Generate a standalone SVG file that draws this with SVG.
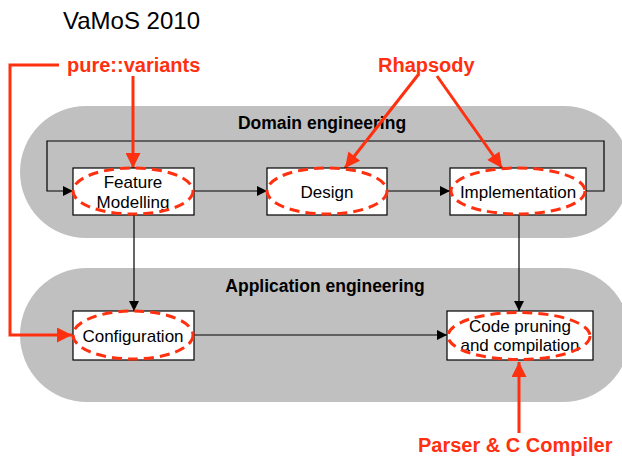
<svg xmlns="http://www.w3.org/2000/svg" width="622" height="461" viewBox="0 0 622 461">
<style>
.band{fill:#c0c0c0}
.box{fill:#fff;stroke:#000;stroke-width:1.2}
.lbl{font-family:"Liberation Sans",Arial,sans-serif;font-size:17px;fill:#000;text-anchor:middle}
.hdr{font-family:"Liberation Sans",Arial,sans-serif;font-size:17.5px;font-weight:bold;fill:#000;text-anchor:middle}
.tool{font-family:"Liberation Sans",Arial,sans-serif;font-size:20px;font-weight:bold;fill:#ff3010}
.ell{fill:none;stroke:#ff3010;stroke-width:3;stroke-dasharray:10 6}
.conn{fill:none;stroke:#000;stroke-width:1.2}
.red{fill:none;stroke:#ff3010;stroke-width:3}
</style>
<defs>
<marker id="ab" viewBox="0 0 10 10" refX="10" refY="5" markerWidth="10" markerHeight="10" markerUnits="userSpaceOnUse" orient="auto"><path d="M0,0 L10,5 L0,10 z" fill="#000"/></marker>
<marker id="ar" viewBox="0 0 10 10" refX="10" refY="5" markerWidth="18" markerHeight="15" markerUnits="userSpaceOnUse" orient="auto"><path d="M0,0 L10,5 L0,10 z" fill="#ff3010"/></marker>
</defs>
<text x="63" y="29" font-family="Liberation Sans, Arial, sans-serif" font-size="24" fill="#000">VaMoS 2010</text>
<g id="domain"><rect class="band" x="20" y="106" width="610" height="132" rx="66"/><text class="hdr" x="322" y="129">Domain engineering</text></g>
<g id="application"><rect class="band" x="20" y="268" width="610" height="134" rx="67"/><text class="hdr" x="325" y="292">Application engineering</text></g>
<g id="connectors">
<polyline class="conn" points="586,191 604,191 604,141 47,141 47,191 73,191" marker-end="url(#ab)"/>
<line class="conn" x1="194" y1="191" x2="267" y2="191" marker-end="url(#ab)"/>
<line class="conn" x1="387" y1="191" x2="450" y2="191" marker-end="url(#ab)"/>
<line class="conn" x1="134" y1="215" x2="134" y2="311" marker-end="url(#ab)"/>
<line class="conn" x1="519" y1="215" x2="519" y2="311" marker-end="url(#ab)"/>
<line class="conn" x1="194" y1="335" x2="447" y2="335" marker-end="url(#ab)"/>
<polyline class="red" points="59,65 10,65 10,335 72,335" marker-end="url(#ar)"/>
<line class="red" x1="133" y1="76" x2="133" y2="168" marker-end="url(#ar)"/>
<line class="red" x1="418" y1="75" x2="345" y2="168" marker-end="url(#ar)"/>
<line class="red" x1="437" y1="76" x2="502" y2="168" marker-end="url(#ar)"/>
<line class="red" x1="519" y1="433" x2="519" y2="362" marker-end="url(#ar)"/>
</g>
<g id="feature"><rect class="box" x="73" y="168" width="121" height="47"/><text class="lbl" x="133" y="188">Feature</text><text class="lbl" x="133" y="208">Modelling</text><ellipse class="ell" cx="133" cy="191" rx="60" ry="23"/></g>
<g id="design"><rect class="box" x="267" y="168" width="120" height="47"/><text class="lbl" x="327" y="198">Design</text><ellipse class="ell" cx="327" cy="191" rx="60" ry="23"/></g>
<g id="implementation"><rect class="box" x="450" y="168" width="136" height="47"/><text class="lbl" x="518" y="198">Implementation</text><ellipse class="ell" cx="518" cy="191" rx="67" ry="23"/></g>
<g id="configuration"><rect class="box" x="73" y="311" width="121" height="49"/><text class="lbl" x="133" y="342">Configuration</text><ellipse class="ell" cx="133" cy="335" rx="60" ry="24"/></g>
<g id="codepruning"><rect class="box" x="447" y="311" width="146" height="49"/><text class="lbl" x="520" y="332">Code pruning</text><text class="lbl" x="520" y="351">and compilation</text><ellipse class="ell" cx="519" cy="336" rx="71" ry="23.5"/></g>
<g id="tools">
<text class="tool" x="67" y="72">pure::variants</text>
<text class="tool" x="378" y="72">Rhapsody</text>
<text class="tool" x="418" y="452">Parser &amp; C Compiler</text>
</g>
</svg>
